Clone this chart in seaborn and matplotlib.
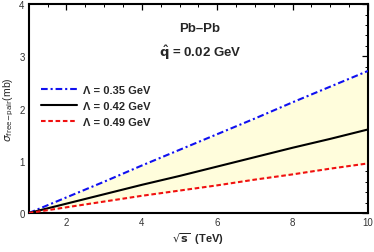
import numpy as np
import pandas as pd
import matplotlib
matplotlib.use("Agg")
import matplotlib.pyplot as plt
import seaborn as sns
from matplotlib.ticker import MultipleLocator

# values
sqrt_s = [1, 2, 3, 4, 5, 6, 7, 8, 9, 10]
sigma_035 = [0.0, 0.30, 0.60, 0.91, 1.21, 1.51, 1.81, 2.12, 2.42, 2.72]
sigma_042 = [0.0, 0.18, 0.36, 0.54, 0.71, 0.89, 1.07, 1.25, 1.42, 1.60]
sigma_049 = [0.0, 0.11, 0.22, 0.33, 0.43, 0.53, 0.64, 0.74, 0.85, 0.95]
labels = ["Λ = 0.35 GeV", "Λ = 0.42 GeV", "Λ = 0.49 GeV"]

df = pd.DataFrame({"x": sqrt_s, "a": sigma_035, "b": sigma_042, "c": sigma_049})

sns.set_theme(style="white")
plt.rcParams['font.family'] = ['Liberation Sans', 'DejaVu Sans']
plt.rcParams['mathtext.fontset'] = 'dejavusans'

fig = plt.figure(figsize=(3.74, 2.53), dpi=100)
ax = fig.add_axes([0.077, 0.154, 0.907, 0.826])

ax.fill_between(df["x"], df["c"], df["a"], color="#FFFDDC", lw=0, zorder=1)
sns.lineplot(data=df, x="x", y="a", ax=ax, color="#1010F0", lw=1.5,
             linestyle=(0, (3.2, 1.4, 1, 1.4)), label=labels[0], zorder=3)
sns.lineplot(data=df, x="x", y="b", ax=ax, color="black", lw=1.5,
             label=labels[1], zorder=3)
sns.lineplot(data=df, x="x", y="c", ax=ax, color="#F01010", lw=1.5,
             linestyle=(0, (2.2, 1.3)), label=labels[2], zorder=3)

ax.set_xlim(1, 10)
ax.set_ylim(0, 4)
ax.xaxis.set_major_locator(MultipleLocator(2))
ax.xaxis.set_minor_locator(MultipleLocator(0.5))
ax.yaxis.set_major_locator(MultipleLocator(1))
ax.yaxis.set_minor_locator(MultipleLocator(0.2))
ax.tick_params(which="both", direction="in", top=True, right=True,
               labelsize=7, labelcolor="#333333", color="black", pad=3)
ax.tick_params(which="major", length=4, width=0.9)
ax.tick_params(which="minor", length=2.2, width=0.7)
for sp in ax.spines.values():
    sp.set_linewidth(1.5)
    sp.set_color("black")

ax.set_xlabel(r"$\mathbf{\sqrt{s}}$  (TeV)", fontsize=8, fontweight="bold", labelpad=2)
ax.set_ylabel(r"$\sigma_{\mathrm{free\!-\!pair}}$(mb)", fontsize=7.5, labelpad=2)

ax.text(0.505, 0.885, "Pb–Pb", transform=ax.transAxes, ha="center", va="center",
        fontsize=9.5, fontweight="bold")
ax.text(0.505, 0.772, r"$\mathbf{\hat{q}}$ = 0.02 GeV", transform=ax.transAxes,
        ha="center", va="center", fontsize=9.5, fontweight="bold")

leg = ax.legend(loc="upper left", bbox_to_anchor=(0.035, 0.615), frameon=False,
                borderaxespad=0, borderpad=0, handlelength=3.3, handletextpad=0.5,
                labelspacing=0.55, prop={"size": 8, "weight": "bold"})

fig.savefig("out.png", dpi=100)
